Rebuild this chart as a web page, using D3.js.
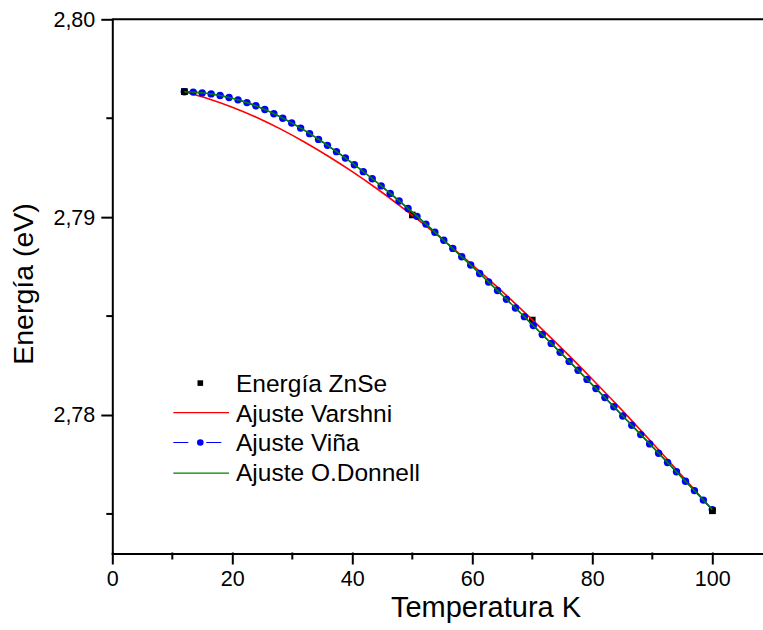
<!DOCTYPE html>
<html>
<head>
<meta charset="utf-8">
<script src="https://cdn.jsdelivr.net/npm/d3@7"></script>
<style>
  html, body { margin: 0; padding: 0; background: #fff; }
  svg { display: block; font-family: "Liberation Sans", Arial, Helvetica, sans-serif; }
</style>
</head>
<body>
<svg id="chart" width="763" height="630"></svg>
<script>
// Measured band-gap energy of ZnSe (eV) versus temperature (K)
const tempK = [12, 50, 70, 100];
const energiaZnSe = [2.79634, 2.79011, 2.78480, 2.77516];

// Viña fit, sampled at the plotted symbol positions
const tempVina = [12, 13.49, 14.98, 16.47, 17.97, 19.46, 20.95, 22.44, 23.93, 25.42,
  26.92, 28.41, 29.90, 31.39, 32.88, 34.37, 35.86, 37.36, 38.85, 40.34,
  41.83, 43.32, 44.81, 46.31, 47.80, 49.29, 50.78, 52.27, 53.76, 55.25,
  56.75, 58.24, 59.73, 61.22, 62.71, 64.20, 65.69, 67.19, 68.68, 70.17,
  71.66, 73.15, 74.64, 76.14, 77.63, 79.12, 80.61, 82.10, 83.59, 85.08,
  86.58, 88.07, 89.56, 91.05, 92.54, 94.03, 95.53, 97.02, 98.51, 100];
const energiaVina = [2.79634, 2.79632, 2.79628, 2.79623, 2.79615, 2.79605, 2.79593, 2.79579, 2.79563, 2.79544,
  2.79523, 2.79500, 2.79476, 2.79450, 2.79422, 2.79393, 2.79363, 2.79331, 2.79299, 2.79265,
  2.79230, 2.79194, 2.79158, 2.79120, 2.79082, 2.79044, 2.79004, 2.78965, 2.78924, 2.78883,
  2.78842, 2.78800, 2.78758, 2.78715, 2.78672, 2.78629, 2.78585, 2.78541, 2.78497, 2.78452,
  2.78407, 2.78362, 2.78317, 2.78271, 2.78226, 2.78180, 2.78134, 2.78088, 2.78042, 2.77995,
  2.77948, 2.77901, 2.77854, 2.77807, 2.77760, 2.77713, 2.77665, 2.77618, 2.77570, 2.77522];

// Varshni and O'Donnell fits
const tempFit = [12, 16, 20, 24, 28, 32, 36, 40, 44, 48, 52, 56, 60, 64, 68, 72, 76, 80, 84, 88, 92, 96, 100];
const energiaVarshni = [2.79634, 2.79599, 2.79556, 2.79505, 2.79446, 2.79380, 2.79308, 2.79230,
  2.79146, 2.79056, 2.78962, 2.78863, 2.78759, 2.78651, 2.78539, 2.78423, 2.78304, 2.78181,
  2.78055, 2.77925, 2.77793, 2.77658, 2.77520];
const energiaODonnell = [2.79634, 2.79625, 2.79601, 2.79562, 2.79507, 2.79439, 2.79360, 2.79273,
  2.79178, 2.79077, 2.78972, 2.78862, 2.78750, 2.78635, 2.78517, 2.78397, 2.78276, 2.78153,
  2.78029, 2.77904, 2.77777, 2.77650, 2.77522];

// Axis ticks and labels
const xTicks = [0, 20, 40, 60, 80, 100];
const xTickLabels = ["0", "20", "40", "60", "80", "100"];
const xMinorTicks = [10, 30, 50, 70, 90];
const yTicks = [2.78, 2.79, 2.80];
const yTickLabels = ["2,78", "2,79", "2,80"];
const yMinorTicks = [2.775, 2.785, 2.795];

const legendLabels = ["Energía ZnSe", "Ajuste Varshni", "Ajuste Viña", "Ajuste O.Donnell"];

const svg = d3.select("#chart");

const x = d3.scaleLinear().domain([0, 110]).range([112.3, 772.3]);
const y = d3.scaleLinear().domain([2.773, 2.80]).range([553.5, 19.3]);

const axisColor = "#000";
const axisWidth = 2;

// Top frame line
svg.append("line")
  .attr("x1", x(0)).attr("x2", x(110))
  .attr("y1", y(2.80)).attr("y2", y(2.80))
  .attr("stroke", axisColor).attr("stroke-width", axisWidth);

// Bottom axis
const xAxisG = svg.append("g").attr("transform", `translate(0,${y.range()[0]})`);
xAxisG.call(d3.axisBottom(x)
  .tickValues(xTicks)
  .tickFormat((d, i) => xTickLabels[i])
  .tickSize(10).tickSizeOuter(0).tickPadding(7));
xAxisG.append("g").selectAll("line").data(xMinorTicks).join("line")
  .attr("x1", d => x(d)).attr("x2", d => x(d))
  .attr("y1", 0).attr("y2", 5);

// Left axis
const yAxisG = svg.append("g").attr("transform", `translate(${x(0)},0)`);
yAxisG.call(d3.axisLeft(y)
  .tickValues(yTicks)
  .tickFormat((d, i) => yTickLabels[i])
  .tickSize(10).tickSizeOuter(0).tickPadding(7));
yAxisG.append("g").selectAll("line").data(yMinorTicks).join("line")
  .attr("x1", 0).attr("x2", -5)
  .attr("y1", d => y(d)).attr("y2", d => y(d));

[xAxisG, yAxisG].forEach(g => {
  g.selectAll("path, line").attr("stroke", axisColor).attr("stroke-width", axisWidth).attr("stroke-linecap", "square");
  g.selectAll("text").attr("font-size", 21.5).attr("fill", "#000").attr("font-family", "'Liberation Sans', Arial, sans-serif");
});

// Axis titles
svg.append("text")
  .attr("x", 486).attr("y", 617)
  .attr("text-anchor", "middle")
  .attr("font-size", 29)
  .text("Temperatura K");

svg.append("text")
  .attr("transform", "translate(33,284) rotate(-90)")
  .attr("text-anchor", "middle")
  .attr("font-size", 28.5)
  .text("Energía (eV)");

// Curves
const lineGen = d3.line().curve(d3.curveCatmullRom.alpha(0.5));

const varshniPts = tempFit.map((t, i) => [x(t), y(energiaVarshni[i])]);
const vinaPts = tempVina.map((t, i) => [x(t), y(energiaVina[i])]);
const odonnellPts = tempFit.map((t, i) => [x(t), y(energiaODonnell[i])]);
const dataPts = tempK.map((t, i) => [x(t), y(energiaZnSe[i])]);

const sq = 6.6;
svg.append("g").selectAll("rect").data(dataPts).join("rect")
  .attr("x", d => d[0] - sq / 2).attr("y", d => d[1] - sq / 2)
  .attr("width", sq).attr("height", sq)
  .attr("fill", "#000");

svg.append("path").attr("d", lineGen(varshniPts))
  .attr("fill", "none").attr("stroke", "#ff0000").attr("stroke-width", 1.6);

svg.append("path").attr("d", lineGen(vinaPts))
  .attr("fill", "none").attr("stroke", "#0000ff").attr("stroke-width", 1.4)
  .attr("stroke-dasharray", "8,5");

svg.append("g").selectAll("circle").data(vinaPts).join("circle")
  .attr("cx", d => d[0]).attr("cy", d => d[1]).attr("r", 3.7)
  .attr("fill", "#0000ff");

svg.append("g").selectAll("rect").data([dataPts[0], dataPts[dataPts.length - 1]]).join("rect")
  .attr("x", d => d[0] - sq / 2).attr("y", d => d[1] - sq / 2)
  .attr("width", sq).attr("height", sq)
  .attr("fill", "#000");

svg.append("path").attr("d", lineGen(odonnellPts))
  .attr("fill", "none").attr("stroke", "#008000").attr("stroke-width", 1.6);

// Legend
const lg = svg.append("g").attr("font-size", 24.5);
const rowY = [391.7, 421.7, 450.9, 480.7];
const symX0 = 173.3, symX1 = 229, symXc = 200.3, textX = 236;

lg.append("rect")
  .attr("x", symXc - 2.8).attr("y", rowY[0] - 8.6 - 2.8)
  .attr("width", 5.6).attr("height", 5.6).attr("fill", "#000");

lg.append("line").attr("x1", symX0).attr("x2", symX1)
  .attr("y1", rowY[1] - 9).attr("y2", rowY[1] - 9)
  .attr("stroke", "#ff0000").attr("stroke-width", 1.2);

lg.append("line").attr("x1", symX0).attr("x2", symX1)
  .attr("y1", rowY[2] - 8.4).attr("y2", rowY[2] - 8.4)
  .attr("stroke", "#0000ff").attr("stroke-width", 1.2)
  .attr("stroke-dasharray", "15,18");
lg.append("circle").attr("cx", symXc).attr("cy", rowY[2] - 8.4).attr("r", 3.3).attr("fill", "#0000ff");

lg.append("line").attr("x1", symX0).attr("x2", symX1)
  .attr("y1", rowY[3] - 7.6).attr("y2", rowY[3] - 7.6)
  .attr("stroke", "#008000").attr("stroke-width", 1.2);

lg.selectAll("text.lab").data(legendLabels).join("text")
  .attr("class", "lab")
  .attr("x", textX).attr("y", (d, i) => rowY[i])
  .attr("fill", "#000")
  .text(d => d);
</script>
</body>
</html>
